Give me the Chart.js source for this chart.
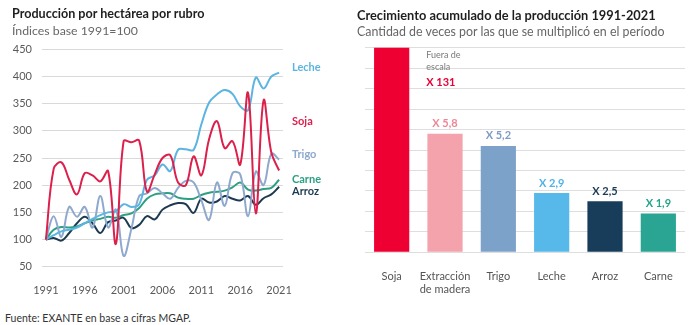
<!DOCTYPE html>
<html>
<head>
<meta charset="utf-8">
<script src="https://cdn.jsdelivr.net/npm/chart.js@4.4.1/dist/chart.umd.min.js"></script>
<style>
  body { margin: 0; width: 690px; height: 325px; background: #fff; font-family: Lato, "Open Sans", sans-serif; position: relative; overflow: hidden; }
  canvas { position: absolute; top: 0; }
  .txt { position: absolute; white-space: nowrap; line-height: 1; }
  .title { font-weight: 700; font-size: 12.8px; color: #1e1e1e; }
  .sub { color: #666; }
</style>
</head>
<body>
<canvas id="lineChart" width="345" height="300" style="left:0"></canvas>
<canvas id="barChart" width="345" height="300" style="left:345px"></canvas>

<div class="txt title" style="left:12px;top:8px;font-size:12.6px">Producción por hectárea por rubro</div>
<div class="txt sub" style="left:12px;top:25px;font-size:12.3px">Índices base 1991=100</div>
<div class="txt title" style="left:357px;top:9px">Crecimiento acumulado de la producción 1991-2021</div>
<div class="txt sub" style="left:357px;top:26px;font-size:12.4px">Cantidad de veces por las que se multiplicó en el período</div>
<div class="txt" style="left:5px;top:313px;font-size:10.5px;color:#333">Fuente: EXANTE en base a cifras MGAP.</div>

<script>
// ---- Producción por hectárea (índice 1991 = 100) ----
const years = ['1991','1992','1993','1994','1995','1996','1997','1998','1999','2000',
               '2001','2002','2003','2004','2005','2006','2007','2008','2009','2010',
               '2011','2012','2013','2014','2015','2016','2017','2018','2019','2020','2021'];

const soja  = [100,230,242,210,183,222,218,207,226, 92,281,279,282,188,220,250,255,205,200,253,218,285,318,268,281,238,370,148,356,260,227];
const leche = [100,108,115,118,122,130,138,145,150,152,165,160,165,210,218,238,226,265,266,265,312,352,367,375,368,345,338,398,378,400,407];
const trigo = [100,143,105,160,142,160,122,180,122,155, 70,120,180,185,195,185,175,195,208,205,172,136,205,162,222,220,143,225,200,258,247];
const carne = [100,118,123,122,124,130,135,138,142,140,145,148,158,175,183,185,185,177,175,175,182,186,188,190,196,205,192,190,193,195,210];
const arroz = [100,103, 98,112,130,142,130,112,132,135,140,121,127,143,137,155,163,167,165,149,175,168,170,180,175,172,180,164,176,183,197];

const yTicks = [50,100,150,200,250,300,350,400,450];

// ---- Crecimiento acumulado 1991-2021 (veces) ----
const products = ['Soja', ['Extracción', 'de madera'], 'Trigo', 'Leche', 'Arroz', 'Carne'];
const growth   = [131, 5.8, 5.2, 2.9, 2.5, 1.9];
const growthAxisMax = 10;

// ---- styling ----
const FONT = 'Lato, "Open Sans", sans-serif';
const seriesStyle = [
  { name: 'Soja',  data: soja,  color: '#DC1F4B', label: '#DC1F4B', at: 318 },
  { name: 'Leche', data: leche, color: '#5BB5E0', label: '#5BB5E0', at: 416 },
  { name: 'Trigo', data: trigo, color: '#8EA9CD', label: '#8EA9CD', at: 256 },
  { name: 'Carne', data: carne, color: '#2E9F83', label: '#2BA184', at: 210 },
  { name: 'Arroz', data: arroz, color: '#1D3A52', label: '#1D3A52', at: 189 }
];

const endLabels = {
  id: 'endLabels',
  afterDatasetsDraw(chart) {
    const { ctx, chartArea, scales } = chart;
    ctx.save();
    ctx.font = `700 11px ${FONT}`;
    ctx.textAlign = 'left';
    ctx.textBaseline = 'middle';
    seriesStyle.forEach(s => {
      ctx.fillStyle = s.label;
      ctx.fillText(s.name, chartArea.right + 9, scales.y.getPixelForValue(s.at));
    });
    ctx.restore();
  }
};

new Chart(document.getElementById('lineChart'), {
  type: 'line',
  data: {
    labels: years,
    datasets: seriesStyle.map(s => ({
      label: s.name,
      data: s.data,
      borderColor: s.color,
      borderWidth: 2,
      pointRadius: 0,
      tension: 0.38,
      fill: false
    }))
  },
  options: {
    responsive: false,
    animation: false,
    layout: { padding: { top: 49.3, right: 62, left: 0, bottom: 0 } },
    plugins: { legend: { display: false }, tooltip: { enabled: false } },
    scales: {
      x: {
        type: 'category',
        offset: true,
        grid: { display: false },
        border: { display: false },
        ticks: {
          autoSkip: false,
          maxRotation: 0,
          padding: 9,
          color: '#595959',
          font: { family: FONT, size: 11 },
          callback: (v, i) => (i % 5 === 0 ? years[i] : null)
        },
        afterFit: s => { s.height = 33.3; }
      },
      y: {
        min: 50,
        max: 450,
        afterBuildTicks: s => { s.ticks = yTicks.map(v => ({ value: v })); },
        grid: { color: '#D9D9D9', drawTicks: false, lineWidth: 1 },
        border: { display: false },
        ticks: { padding: 10, color: '#595959', font: { family: FONT, size: 11 } },
        afterFit: s => { s.width = 42; }
      }
    }
  },
  plugins: [endLabels]
});

// ---- bar chart ----
const barColors   = ['#EE0033', '#F4A2AB', '#7DA2CA', '#56B9E9', '#173D5B', '#2BA593'];
const valueColors = ['#E8003A', '#EE8797', '#7D9DC5', '#4FB3E6', '#1A3A55', '#23A48B'];
const fmt = v => 'X ' + String(v).replace('.', ',');

const barLabels = {
  id: 'barLabels',
  afterDatasetsDraw(chart) {
    const { ctx, chartArea } = chart;
    const meta = chart.getDatasetMeta(0);
    ctx.save();
    meta.data.forEach((bar, i) => {
      const v = growth[i];
      if (v > growthAxisMax) {
        // value beyond the axis: note beside the clipped bar
        const x = bar.x + bar.width / 2 + 17;
        ctx.textAlign = 'left';
        ctx.textBaseline = 'middle';
        ctx.fillStyle = '#7a7a7a';
        ctx.font = `9px ${FONT}`;
        ctx.fillText('Fuera de', x, chartArea.top + 7.5);
        ctx.fillText('escala', x, chartArea.top + 19.5);
        ctx.fillStyle = valueColors[i];
        ctx.font = `700 11px ${FONT}`;
        ctx.fillText(fmt(v), x, chartArea.top + 34.5);
      } else {
        ctx.textAlign = 'center';
        ctx.textBaseline = 'middle';
        ctx.fillStyle = valueColors[i];
        ctx.font = `700 11px ${FONT}`;
        ctx.fillText(fmt(v), bar.x, bar.y - 10);
      }
    });
    ctx.restore();
  }
};

new Chart(document.getElementById('barChart'), {
  type: 'bar',
  data: {
    labels: products,
    datasets: [{
      data: growth,
      backgroundColor: barColors,
      borderWidth: 0,
      barPercentage: 0.66,
      categoryPercentage: 1
    }]
  },
  options: {
    responsive: false,
    animation: false,
    layout: { padding: { top: 47.7, right: 5, left: 20, bottom: 0 } },
    plugins: { legend: { display: false }, tooltip: { enabled: false } },
    scales: {
      x: {
        grid: { display: false },
        border: { display: false },
        ticks: {
          maxRotation: 0,
          autoSkip: false,
          padding: 9.5,
          color: '#555',
          font: { family: FONT, size: 11 }
        },
        afterFit: s => { s.height = 47.7; }
      },
      y: {
        min: 0,
        max: growthAxisMax,
        ticks: { display: false, stepSize: 1 },
        grid: { color: '#DEDEDE', drawTicks: false },
        border: { display: false },
        afterFit: s => { s.width = 0; }
      }
    }
  },
  plugins: [barLabels]
});
</script>
</body>
</html>
